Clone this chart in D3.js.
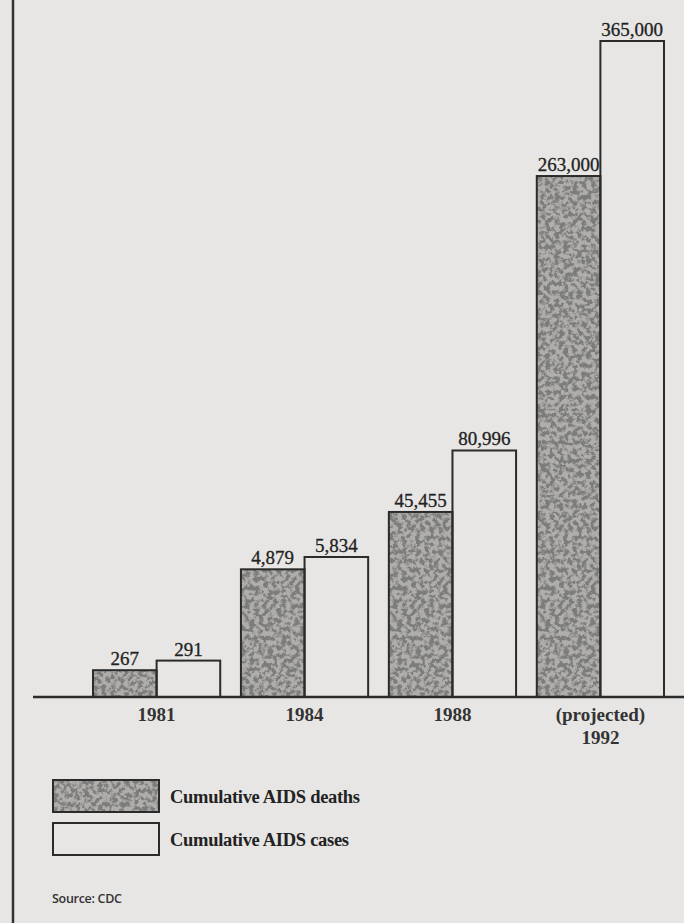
<!DOCTYPE html>
<html>
<head>
<meta charset="utf-8">
<script src="https://cdn.jsdelivr.net/npm/d3@7"></script>
<style>
  body { margin: 0; background: #e7e6e4; }
  svg { display: block; }
</style>
</head>
<body>
<div class="canva"></div>
<script>
// data
const years = ["1981", "1984", "1988", "1992"]
const yearLabels = [["1981"], ["1984"], ["1988"], ["(projected)", "1992"]]
const series = ["deaths", "cases"]
const deaths = [267, 4879, 45455, 263000]
const cases = [291, 5834, 80996, 365000]
const legendLabels = ["Cumulative AIDS deaths", "Cumulative AIDS cases"]

const W = 684, H = 923
const base = 697
const paper = "#e7e6e4"

const svg = d3.select(".canva").append("svg")
  .attr("width", W).attr("height", H)

// stipple texture for the deaths bars
const defs = svg.append("defs")
const f = defs.append("filter").attr("id", "grain")
  .attr("x", 0).attr("y", 0).attr("width", 1).attr("height", 1)
f.append("feTurbulence").attr("type", "fractalNoise")
  .attr("baseFrequency", 0.22).attr("numOctaves", 3).attr("seed", 7).attr("result", "n")
f.append("feColorMatrix").attr("in", "n").attr("type", "matrix")
  .attr("values", "0 0 0 0 0.2  0 0 0 0 0.2  0 0 0 0 0.2  5.5 0 0 0 -2.3")
  .attr("result", "dots")
f.append("feComposite").attr("in", "dots").attr("in2", "SourceGraphic").attr("operator", "atop")

// the original is drawn "not to scale": a non-uniform value axis
const y = d3.scaleLinear()
  .domain([0, 250, 300, 5000, 6000, 50000, 80000, 260000, 365000])
  .range([base, base - 20, base - 40, base - 130, base - 142, base - 190, base - 245, base - 517, base - 656])

const x0 = d3.scaleBand().domain(years).range([93, 664]).paddingInner(0.14)
const x1 = d3.scaleBand().domain(series).range([0, x0.bandwidth()])

const rows = years.map((yr, i) => ({ year: yr, deaths: deaths[i], cases: cases[i] }))

// left rule
svg.append("line").attr("x1", 13).attr("x2", 13).attr("y1", 0).attr("y2", H)
  .attr("stroke", "#333").attr("stroke-width", 2.5)

const g = svg.selectAll("g.grp").data(rows).enter().append("g")
  .attr("class", "grp")
  .attr("transform", d => `translate(${x0(d.year)},0)`)

const bars = d => series.map(s => ({ key: s, value: d[s] }))

// fills (textured for deaths)
g.selectAll("rect.fill").data(bars).enter().append("rect")
  .attr("class", "fill")
  .attr("x", d => x1(d.key))
  .attr("y", d => y(d.value))
  .attr("width", x1.bandwidth())
  .attr("height", d => base - y(d.value))
  .attr("fill", d => d.key == "deaths" ? "#b0aeab" : paper)
  .attr("filter", d => d.key == "deaths" ? "url(#grain)" : null)

// outlines
g.selectAll("rect.edge").data(bars).enter().append("rect")
  .attr("class", "edge")
  .attr("x", d => x1(d.key))
  .attr("y", d => y(d.value))
  .attr("width", x1.bandwidth())
  .attr("height", d => base - y(d.value))
  .attr("fill", "none")
  .attr("stroke", "#2b2b2b").attr("stroke-width", 2)

g.selectAll("text.val").data(bars).enter().append("text")
  .attr("class", "val")
  .attr("x", d => x1(d.key) + x1.bandwidth() / 2)
  .attr("y", d => y(d.value) - 5)
  .attr("text-anchor", "middle")
  .attr("font-family", "Liberation Serif, serif")
  .attr("font-size", 19)
  .attr("fill", "#222")
  .attr("stroke", "#222").attr("stroke-width", 0.3)
  .text(d => d3.format(",")(d.value))

// baseline
svg.append("line").attr("x1", 33).attr("x2", W).attr("y1", base).attr("y2", base)
  .attr("stroke", "#2b2b2b").attr("stroke-width", 2.5)

// year labels
g.append("text")
  .attr("x", x0.bandwidth() / 2)
  .attr("y", 721)
  .attr("text-anchor", "middle")
  .attr("font-family", "Liberation Serif, serif")
  .attr("font-size", 19)
  .attr("font-weight", "bold")
  .attr("fill", "#333")
  .selectAll("tspan").data((d, i) => yearLabels[i]).enter().append("tspan")
  .attr("x", x0.bandwidth() / 2)
  .attr("dy", (d, i) => i == 0 ? 0 : 23)
  .text(d => d)

// legend
const leg = svg.selectAll("g.leg").data(series).enter().append("g")
  .attr("class", "leg")
  .attr("transform", (d, i) => `translate(53,${780 + i * 43})`)

leg.append("rect")
  .attr("width", 106).attr("height", 32)
  .attr("fill", d => d == "deaths" ? "#b0aeab" : paper)
  .attr("filter", d => d == "deaths" ? "url(#grain)" : null)

leg.append("rect")
  .attr("width", 106).attr("height", 32)
  .attr("fill", "none")
  .attr("stroke", "#2b2b2b").attr("stroke-width", 2)

leg.append("text")
  .attr("x", 117).attr("y", 23)
  .attr("font-family", "Liberation Serif, serif")
  .attr("font-size", 18.5)
  .attr("font-weight", "bold")
  .attr("letter-spacing", -0.3)
  .attr("fill", "#222")
  .text((d, i) => legendLabels[i])

svg.append("text").attr("x", 52).attr("y", 903)
  .attr("font-family", "Open Sans, sans-serif")
  .attr("font-size", 12.5)
  .attr("font-weight", 600)
  .attr("letter-spacing", -0.3)
  .attr("fill", "#333")
  .text("Source: CDC")
</script>
</body>
</html>
